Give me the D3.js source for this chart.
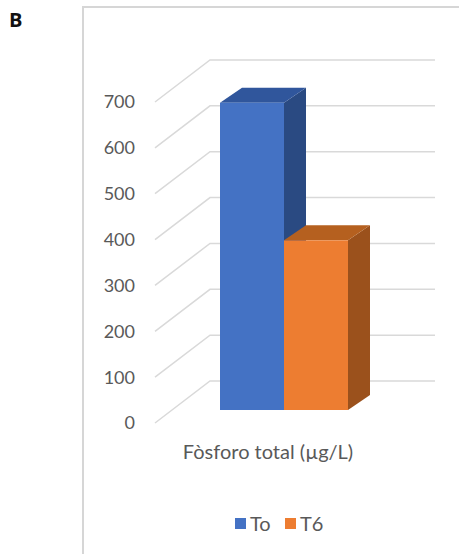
<!DOCTYPE html>
<html><head><meta charset="utf-8">
<script src="https://cdn.jsdelivr.net/npm/d3@7"></script>
<style>body{margin:0;background:#fff;} svg{display:block;font-family:Lato,"Open Sans",sans-serif;}</style>
</head><body>
<script>
const categories = ["Fòsforo total (µg/L)"];
const seriesNames = ["To", "T6"];
const seriesValues = [670, 370];
const tickValues = [0, 100, 200, 300, 400, 500, 600, 700];
const colors = ["#4472C4", "#ED7D31"];
const topColors = ["#30569c", "#b5601f"];
const sideColors = ["#2a4a82", "#9b511c"];

const W = 459, H = 554;
const svg = d3.select("body").append("svg").attr("width", W).attr("height", H);

// Panel label
svg.append("text").attr("x", 9).attr("y", 27).text("B")
  .attr("font-family", "Open Sans, sans-serif").attr("font-weight", "bold").attr("font-size", 20).attr("fill", "#111");

// chart border (left + top)
svg.append("path").attr("d", "M83,554 L83,7 L459,7").attr("fill", "none").attr("stroke", "#d6d6d6").attr("stroke-width", 2);

// y scale on the back wall
const y = d3.scaleLinear().domain([0, 700]).range([381, 60]);
const wallX0 = 210, wallX1 = 435;
const depthDX = -55, depthDY = 42; // from back wall to front edge of floor

const grid = svg.append("g");
tickValues.forEach(v => {
  grid.append("path")
    .attr("d", `M${wallX0 + depthDX},${y(v) + depthDY} L${wallX0},${y(v)} L${wallX1},${y(v)}`)
    .attr("fill", "none").attr("stroke", "#d9d9d9").attr("stroke-width", 1.5);
  svg.append("text").attr("x", 135).attr("y", y(v) + depthDY).attr("dy", "0.36em")
    .attr("text-anchor", "end").attr("font-size", 18).attr("fill", "#595959").text(v);
});

// bars
const x = d3.scaleBand().domain(seriesNames).range([220, 348]).padding(0);
const frontBottom = 410;
const bdx = 22, bdy = -15;
const hScale = v => y(0) - y(v);
seriesNames.forEach((s, i) => {
  const v = seriesValues[i];
  const x0 = x(s), x1 = x(s) + x.bandwidth();
  const yt = frontBottom - hScale(v);
  const g = svg.append("g");
  g.append("path").attr("d", `M${x1},${yt} L${x1 + bdx},${yt + bdy} L${x1 + bdx},${frontBottom + bdy} L${x1},${frontBottom} Z`).attr("fill", sideColors[i]);
  g.append("path").attr("d", `M${x0},${yt} L${x0 + bdx},${yt + bdy} L${x1 + bdx},${yt + bdy} L${x1},${yt} Z`).attr("fill", topColors[i]);
  g.append("rect").attr("x", x0).attr("y", yt).attr("width", x1 - x0).attr("height", frontBottom - yt).attr("fill", colors[i]);
});

// category label
svg.append("text").attr("x", 268).attr("y", 452).attr("dy", "0.36em").attr("text-anchor", "middle")
  .attr("font-size", 20).attr("fill", "#595959").text(categories[0]);

// legend
const legendX = [235, 285];
seriesNames.forEach((s, i) => {
  svg.append("rect").attr("x", legendX[i]).attr("y", 518).attr("width", 11).attr("height", 11).attr("fill", colors[i]);
  svg.append("text").attr("x", legendX[i] + 15).attr("y", 524).attr("dy", "0.36em")
    .attr("font-size", 20).attr("fill", "#595959").text(s);
});
</script>
</body></html>
